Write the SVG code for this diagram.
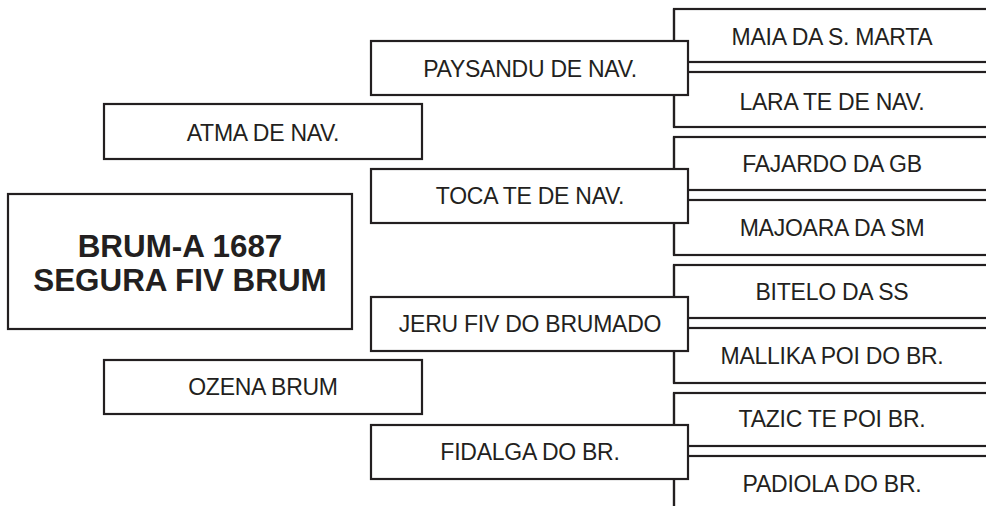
<svg xmlns="http://www.w3.org/2000/svg" width="986" height="506" viewBox="0 0 986 506">
<style>
.box{fill:#fff;stroke:#231f20;stroke-width:2.2}
.t{font-family:"Liberation Sans",Arial,sans-serif;font-size:23px;letter-spacing:-0.25px;fill:#231f20;text-anchor:middle}
.tb{font-family:"Liberation Sans",Arial,sans-serif;font-size:31.4px;font-weight:bold;fill:#231f20;text-anchor:middle}
.ln{fill:none;stroke:#231f20;stroke-width:2.2}
</style>
<rect x="0" y="0" width="986" height="506" fill="#fff"/>
<g id="n-maia"><rect class="box" x="674" y="9" width="330" height="53"/><text class="t" x="832" y="45">MAIA DA S. MARTA</text></g>
<g id="n-lara"><rect class="box" x="674" y="72" width="330" height="55"/><text class="t" x="832" y="110">LARA TE DE NAV.</text></g>
<g id="n-fajardo"><rect class="box" x="674" y="137" width="330" height="53"/><text class="t" x="832" y="172">FAJARDO DA GB</text></g>
<g id="n-majoara"><rect class="box" x="674" y="200" width="330" height="55"/><text class="t" x="832" y="236">MAJOARA DA SM</text></g>
<g id="n-bitelo"><rect class="box" x="674" y="265" width="330" height="53"/><text class="t" x="832" y="300">BITELO DA SS</text></g>
<g id="n-mallika"><rect class="box" x="674" y="328" width="330" height="55"/><text class="t" x="832" y="364">MALLIKA POI DO BR.</text></g>
<g id="n-tazic"><rect class="box" x="674" y="393" width="330" height="53"/><text class="t" x="832" y="427">TAZIC TE POI BR.</text></g>
<g id="n-padiola"><rect class="box" x="674" y="456" width="330" height="80"/><text class="t" x="832" y="492">PADIOLA DO BR.</text></g>
<g id="connectors">
<path class="ln" d="M674 9V127M674 137V255M674 265V383M674 393V506"/>
</g>
<g id="n-paysandu"><rect class="box" x="371" y="41" width="317" height="54"/><text class="t" x="530" y="77">PAYSANDU DE NAV.</text></g>
<g id="n-toca"><rect class="box" x="371" y="169" width="317" height="54"/><text class="t" x="530" y="204">TOCA TE DE NAV.</text></g>
<g id="n-jeru"><rect class="box" x="371" y="297" width="317" height="54"/><text class="t" x="530" y="332">JERU FIV DO BRUMADO</text></g>
<g id="n-fidalga"><rect class="box" x="371" y="425" width="317" height="54"/><text class="t" x="530" y="460">FIDALGA DO BR.</text></g>
<g id="n-atma"><rect class="box" x="104" y="104" width="318" height="55"/><text class="t" x="263" y="141">ATMA DE NAV.</text></g>
<g id="n-ozena"><rect class="box" x="104" y="360" width="318" height="54"/><text class="t" x="263" y="395">OZENA BRUM</text></g>
<g id="n-main"><rect class="box" x="8" y="194" width="344" height="135"/><text class="tb" x="180" y="256.5">BRUM-A 1687</text><text class="tb" x="180" y="291">SEGURA FIV BRUM</text></g>
</svg>
